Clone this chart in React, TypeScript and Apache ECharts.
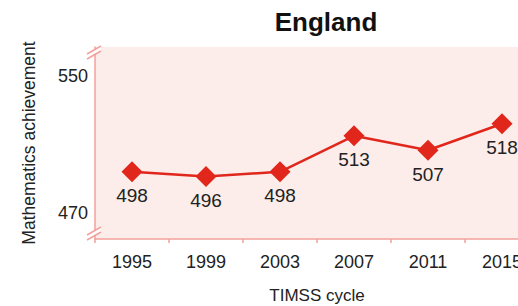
import React, { useEffect, useRef } from "react";
import * as echarts from "echarts";

const categories = ["1995", "1999", "2003", "2007", "2011", "2015"];
const scores = [498, 496, 498, 513, 507, 518];
const yTickLabels = ["470", "550"];
const title = "England";
const yName = "Mathematics achievement";
const xName = "TIMSS cycle";

const FONT = "'Liberation Sans', Arial, sans-serif";
const RED = "#e1261c";
const PINK = "#f3a19c";

export default function App() {
  const ref = useRef<HTMLDivElement>(null);
  useEffect(() => {
    if (!ref.current) return;
    const chart = echarts.init(ref.current, null, { renderer: "svg" });
    chart.setOption({
      animation: false,
      title: {
        text: title,
        left: 321,
        top: 4,
        textAlign: "center",
        textStyle: {
          fontFamily: FONT,
          fontWeight: "bold",
          fontSize: 26,
          color: "#111",
        },
      },
      grid: {
        left: 95,
        top: 47,
        width: 444,
        height: 192,
        containLabel: false,
        outerBoundsMode: "none",
        show: true,
        backgroundColor: "#fcedea",
        borderWidth: 0,
      },
      xAxis: {
        type: "category",
        data: categories,
        boundaryGap: true,
        name: xName,
        nameLocation: "middle",
        nameGap: 48,
        nameTextStyle: { fontFamily: FONT, fontSize: 17, color: "#222" },
        axisLine: { lineStyle: { color: PINK, width: 1.5 } },
        axisTick: { show: true, length: 4, lineStyle: { color: PINK, width: 1.5 } },
        axisLabel: { margin: 14, fontFamily: FONT, fontSize: 18, color: "#222" },
        splitLine: { show: false },
      },
      yAxis: {
        type: "value",
        min: 470,
        max: 550,
        name: yName,
        nameLocation: "middle",
        nameGap: 57,
        nameTextStyle: { fontFamily: FONT, fontSize: 17.5, color: "#222" },
        axisLine: { show: true, lineStyle: { color: PINK, width: 1.5 } },
        axisTick: { show: false },
        splitLine: { show: false },
        axisLabel: {
          customValues: [481, 538],
          formatter: (v: number) => (v < 510 ? yTickLabels[0] : yTickLabels[1]),
          margin: 7,
          fontFamily: FONT,
          fontSize: 18,
          color: "#222",
        },
      },
      series: [
        {
          type: "line",
          data: scores,
          symbol: "diamond",
          symbolSize: 21,
          itemStyle: { color: RED },
          lineStyle: { color: RED, width: 2.5 },
          label: {
            show: true,
            position: "bottom",
            distance: 4,
            fontFamily: FONT,
            fontSize: 19,
            color: "#222",
          },
        },
      ],
      graphic: [
        { type: "polygon", shape: { points: [[87, 54], [101, 46], [101, 51], [87, 59]] }, style: { fill: "#fff" }, z: 10 },
        { type: "line", shape: { x1: 87, y1: 54, x2: 101, y2: 46 }, style: { stroke: PINK, lineWidth: 1.5 }, z: 11 },
        { type: "line", shape: { x1: 87, y1: 59, x2: 101, y2: 51 }, style: { stroke: PINK, lineWidth: 1.5 }, z: 11 },
        { type: "polygon", shape: { points: [[87, 235], [101, 227], [101, 232], [87, 240]] }, style: { fill: "#fff" }, z: 10 },
        { type: "line", shape: { x1: 87, y1: 235, x2: 101, y2: 227 }, style: { stroke: PINK, lineWidth: 1.5 }, z: 11 },
        { type: "line", shape: { x1: 87, y1: 240, x2: 101, y2: 232 }, style: { stroke: PINK, lineWidth: 1.5 }, z: 11 },
      ],
    });
    return () => chart.dispose();
  }, []);
  return (
    <div
      ref={ref}
      style={{ position: "fixed", left: 0, top: 0, width: 518, height: 306, background: "#fff" }}
    />
  );
}
